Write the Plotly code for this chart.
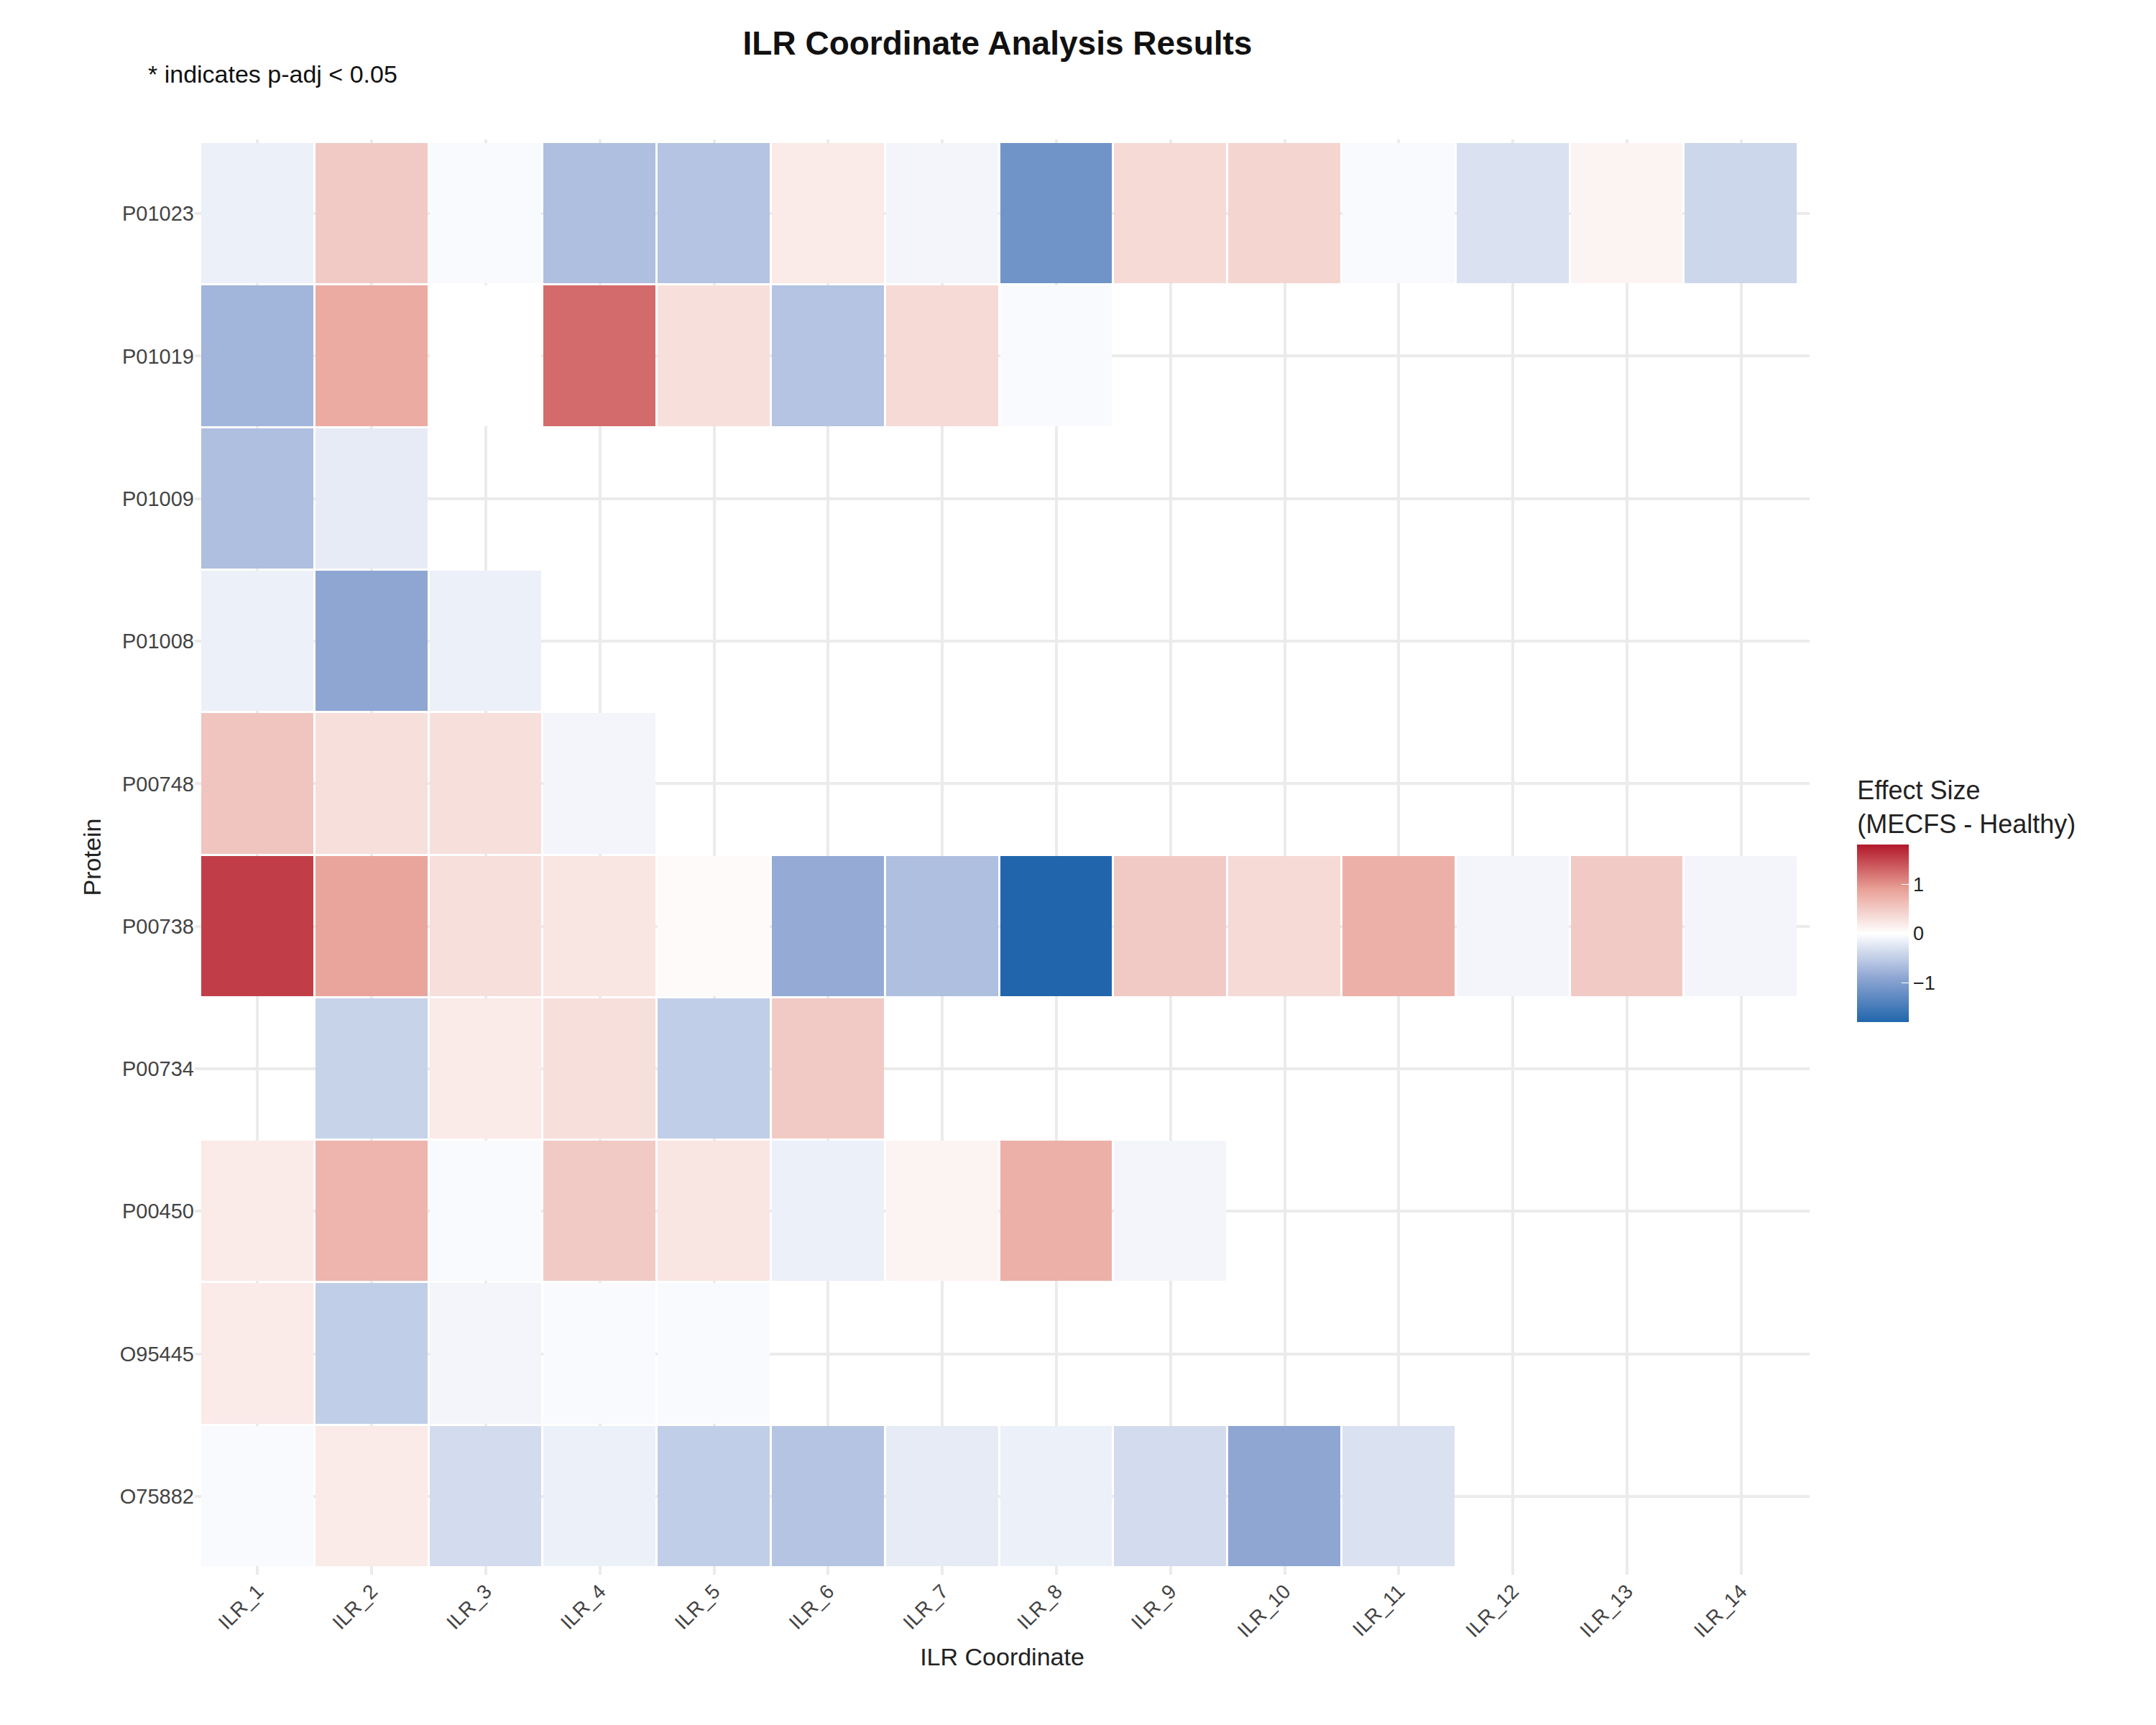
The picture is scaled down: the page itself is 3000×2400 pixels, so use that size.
import plotly.graph_objects as go

coords = [f"ILR_{i}" for i in range(1, 15)]
proteins = ["O75882", "O95445", "P00450", "P00734", "P00738",
            "P00748", "P01008", "P01009", "P01019", "P01023"]

nan = None
o75882 = [-0.05, 0.2, -0.35, -0.15, -0.5, -0.6, -0.2, -0.15, -0.35, -0.9, -0.3]
o95445 = [0.2, -0.5, -0.1, -0.05, -0.05]
p00450 = [0.2, 0.7, -0.05, 0.5, 0.25, -0.15, 0.1, 0.75, -0.1]
p00734 = [nan, -0.45, 0.2, 0.3, -0.5, 0.5]
p00738 = [1.55, 0.85, 0.3, 0.25, 0.05, -0.85, -0.65, -1.8, 0.5, 0.35, 0.75, -0.1, 0.5, -0.1]
p00748 = [0.55, 0.3, 0.3, -0.1]
p01008 = [-0.15, -0.9, -0.15]
p01009 = [-0.65, -0.2]
p01019 = [-0.75, 0.8, 0.0, 1.25, 0.3, -0.6, 0.35, -0.05]
p01023 = [-0.15, 0.5, -0.05, -0.65, -0.6, 0.2, -0.1, -1.15, 0.35, 0.4, -0.05, -0.3, 0.1, -0.4]

rows = [o75882, o95445, p00450, p00734, p00738, p00748, p01008, p01009, p01019, p01023]
z = [r + [nan] * (len(coords) - len(r)) for r in rows]

s = 1.923 * 1.2
fig = go.Figure(go.Heatmap(
    z=z, x=coords, y=proteins, zmin=-1.8, zmax=1.8, xgap=3, ygap=3,
    colorscale=[[0, "#2166AC"], [0.25, "#8FA6D3"], [0.5, "#FFFFFF"],
                [0.75, "#E8A096"], [1, "#B2182B"]],
    colorbar=dict(
        title=dict(text="Effect Size<br>(MECFS - Healthy)", font=dict(size=int(16*s), color="#222")),
        tickvals=[-1, 0, 1], tickfont=dict(size=int(12*s), color="#222"),
        len=360, lenmode="pixels", thickness=72, x=1.025, xanchor="left",
        y=0.47, yanchor="middle", outlinewidth=0, ticks="inside", tickcolor="white", ticklen=10),
    hoverongaps=False,
))

fig.update_layout(
    width=3000, height=2400, plot_bgcolor="white", paper_bgcolor="white",
    font=dict(family="Liberation Sans, Arial", color="#222"),
    margin=dict(l=263, r=490, t=186, b=217),
    title=dict(text="<b>ILR Coordinate Analysis Results</b>", x=0.46, xanchor="center",
               y=0.985, font=dict(size=int(20*s), color="#111")),
    annotations=[dict(text="* indicates p-adj < 0.05", xref="paper", yref="paper",
                      x=-0.03, y=1.035, xanchor="left", yanchor="bottom", showarrow=False,
                      font=dict(size=int(15*s), color="#111"))],
)
fig.update_xaxes(title=dict(text="ILR Coordinate", font=dict(size=int(15*s)), standoff=10),
                 tickangle=-45, tickfont=dict(size=int(12.5*s), color="#444"),
                 showgrid=True, gridcolor="#EBEBEB", gridwidth=4,
                 range=[-0.55, 13.6], zeroline=False)
fig.update_yaxes(title=dict(text="Protein", font=dict(size=int(15*s)), standoff=15),
                 tickfont=dict(size=int(13*s), color="#444"),
                 showgrid=True, gridcolor="#EBEBEB", gridwidth=4,
                 range=[-0.55, 9.52], zeroline=False)

fig.write_html("out.html")
